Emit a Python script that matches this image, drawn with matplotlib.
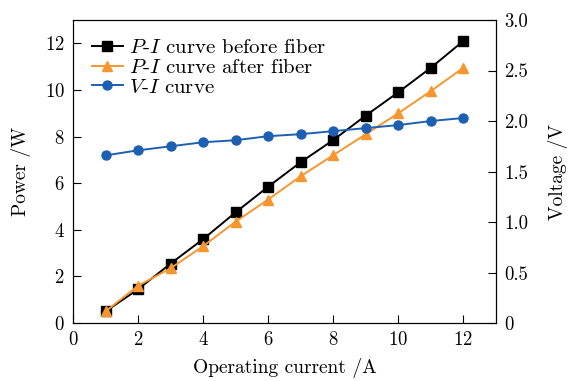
import numpy as np
import matplotlib; matplotlib.use('Agg')
import matplotlib.pyplot as plt

plt.rcParams['font.family'] = 'serif'
plt.rcParams['font.serif'] = ['cmr10', 'DejaVu Serif']
plt.rcParams['mathtext.fontset'] = 'cm'
plt.rcParams['axes.formatter.use_mathtext'] = True

# data
current = [1, 2, 3, 4, 5, 6, 7, 8, 9, 10, 11, 12]
p_before = [0.5, 1.45, 2.55, 3.6, 4.75, 5.85, 6.9, 7.85, 8.9, 9.9, 10.95, 12.1]
p_after = [0.5, 1.6, 2.35, 3.3, 4.35, 5.3, 6.3, 7.2, 8.1, 9.0, 9.95, 10.95]
voltage = [1.66, 1.71, 1.75, 1.79, 1.81, 1.85, 1.87, 1.90, 1.93, 1.96, 2.00, 2.03]

fig = plt.figure(figsize=(5.68, 3.81), dpi=100)
ax = fig.add_axes([0.1285, 0.152, 0.873 - 0.1285, 0.9475 - 0.152])
ax2 = ax.twinx()

l1, = ax.plot(current, p_before, '-s', color='black', ms=6.5, lw=1.4,
              label='$P$-$I$ curve before fiber')
l2, = ax.plot(current, p_after, '-^', color='#f7962f', ms=7.5, lw=1.4,
              label='$P$-$I$ curve after fiber')
l3, = ax2.plot(current, voltage, '-o', color='#1d5fb0', ms=6.5, lw=1.4,
               label='$V$-$I$ curve')

ax.set_xlim(0, 13)
ax.set_ylim(0, 13)
ax2.set_ylim(0, 3.0)
ax.set_xticks(range(0, 13, 2))
ax.set_yticks(range(0, 13, 2))
ax2.set_yticks(np.arange(0, 3.01, 0.5))
ax2.set_yticklabels(['0', '0.5', '1.0', '1.5', '2.0', '2.5', '3.0'])

for a in (ax, ax2):
    a.tick_params(direction='in', labelsize=13.5, length=6, pad=6)
ax.set_xlabel('Operating current /A', fontsize=14, labelpad=6)
ax.set_ylabel('Power /W', fontsize=14, labelpad=10)
ax2.set_ylabel('Voltage /V', fontsize=14, labelpad=14)

ax.legend(handles=[l1, l2, l3], loc='upper left', frameon=False,
          fontsize=15, handlelength=1.5, handletextpad=0.3,
          labelspacing=0.05, borderaxespad=0.5, borderpad=0.4)

fig.savefig('out.png', dpi=100)
